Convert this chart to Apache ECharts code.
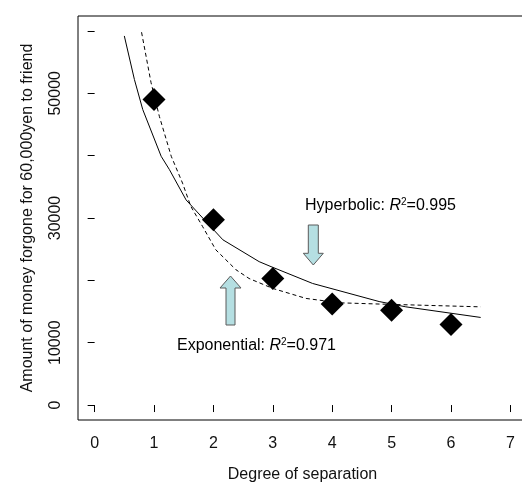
<!DOCTYPE html>
<html>
<head>
<meta charset="utf-8">
<script src="https://cdn.jsdelivr.net/npm/echarts@6/dist/echarts.min.js"></script>
<style>html,body{margin:0;padding:0;background:#fff;}#c{width:522px;height:487px;}</style>
</head>
<body>
<div id="c"></div>
<script>
// ---- data ----
const xTicks = [0, 1, 2, 3, 4, 5, 6, 7];
const yTicks = [0, 10000, 20000, 30000, 40000, 50000, 60000];
const yLabelValues = [0, 10000, 30000, 50000];
const degree = [1, 2, 3, 4, 5, 6];
const amount = [49000, 29700, 20300, 16200, 15200, 12900];
const hypDegree = [0.5, 0.67, 0.81, 1.12, 1.26, 1.54, 1.82, 2.16, 2.77, 2.97, 3.67, 4.79, 5.24, 6.5];
const hypAmount = [59200, 52200, 47400, 39900, 37750, 32900, 30000, 26500, 23000, 22200, 19500, 16600, 15750, 14050];
const expDegree = [0.79, 0.95, 1.09, 1.29, 1.48, 1.62, 1.82, 2.04, 2.38, 2.6, 3.0, 3.56, 4.12, 4.79, 6.5];
const expAmount = [59800, 51700, 46300, 39900, 35600, 31850, 28600, 24900, 21700, 20300, 18700, 17100, 16400, 16200, 15750];

const FONT = 'Liberation Sans, Arial, sans-serif';
const chart = echarts.init(document.getElementById('c'), null, {renderer: 'canvas'});

const zip = (a, b) => a.map((v, i) => [v, b[i]]);

function arrowPoints(cx, tipY, baseY, headY, shaftHalf, headHalf) {
  return [
    [cx, tipY], [cx + headHalf, headY], [cx + shaftHalf, headY],
    [cx + shaftHalf, baseY], [cx - shaftHalf, baseY], [cx - shaftHalf, headY],
    [cx - headHalf, headY]
  ];
}

const richStyle = {
  a: {fontSize: 16, fontFamily: FONT, color: '#111', lineHeight: 18},
  i: {fontSize: 16, fontFamily: FONT, color: '#111', fontStyle: 'italic', lineHeight: 18},
  s: {fontSize: 10, fontFamily: FONT, color: '#111', lineHeight: 18, verticalAlign: 'top', padding: [0, 0, 8, 0]}
};

chart.setOption({
  animation: false,
  grid: {left: 78, top: 16, width: 449, bottom: 67, show: true, borderColor: '#000', borderWidth: 1,
    containLabel: false, outerBoundsMode: 'none'},
  xAxis: {
    type: 'value', min: -0.28, max: 7.28,
    name: 'Degree of separation', nameLocation: 'middle', nameGap: 47,
    nameTextStyle: {fontSize: 16, fontFamily: FONT, color: '#111'},
    axisLine: {show: false},
    splitLine: {show: false},
    axisTick: {show: true, length: 7, inside: false, customValues: xTicks, lineStyle: {color: '#000'}},
    axisLabel: {customValues: xTicks, fontSize: 16, fontFamily: FONT, color: '#111', margin: 16}
  },
  yAxis: {
    type: 'value', min: -2400, max: 62400,
    name: 'Amount of money forgone for 60,000yen to friend', nameLocation: 'middle', nameGap: 42,
    nameTextStyle: {fontSize: 16, fontFamily: FONT, color: '#111'},
    axisLine: {show: false},
    splitLine: {show: false},
    axisTick: {show: true, length: 7, inside: false, customValues: yTicks, lineStyle: {color: '#000'}},
    axisLabel: {customValues: yLabelValues, rotate: 90, fontSize: 16, fontFamily: FONT, color: '#111', margin: 14,
      formatter: v => String(v)}
  },
  series: [
    {
      type: 'line', data: zip(hypDegree, hypAmount), symbol: 'none', smooth: false,
      lineStyle: {color: '#000', width: 1}, z: 2
    },
    {
      type: 'line', data: zip(expDegree, expAmount), symbol: 'none', smooth: false,
      lineStyle: {color: '#000', width: 1, type: [4, 3]}, z: 2
    },
    {
      type: 'scatter', data: zip(degree, amount), symbol: 'diamond', symbolSize: 23,
      itemStyle: {color: '#000', opacity: 1}, z: 3
    }
  ],
  graphic: [
    {type: 'text', left: 305, top: 197, style: {text: '{a|Hyperbolic: }{i|R}{s|2}{a|=0.995}', rich: richStyle}, z: 10},
    {type: 'text', left: 177, top: 337, style: {text: '{a|Exponential: }{i|R}{s|2}{a|=0.971}', rich: richStyle}, z: 10},
    {type: 'polygon', shape: {points: arrowPoints(313.3, 265, 225, 253.3, 5, 10)},
     style: {fill: '#b5dfe2', stroke: '#5a5a5a', lineWidth: 1}, z: 10},
    {type: 'polygon', shape: {points: arrowPoints(230.5, 276, 325, 288, 4.5, 10.5)},
     style: {fill: '#b5dfe2', stroke: '#5a5a5a', lineWidth: 1}, z: 10}
  ]
});
</script>
</body>
</html>
